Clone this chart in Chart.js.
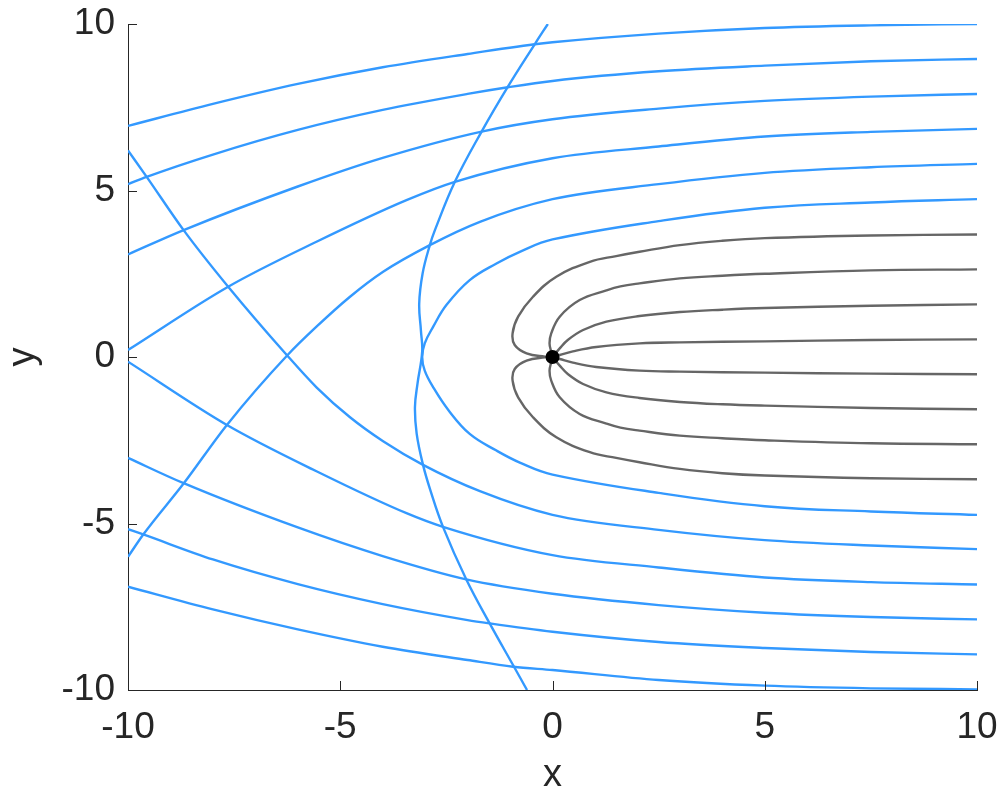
<!DOCTYPE html>
<html>
<head>
<meta charset="utf-8">
<script src="https://cdn.jsdelivr.net/npm/chart.js@4.4.1/dist/chart.umd.min.js"></script>
<style>
  body { margin: 0; background: #fff; }
</style>
</head>
<body>
<canvas id="flowChart" width="1000" height="800"></canvas>
<script>
// axis ticks
const xTicks = [-10, -5, 0, 5, 10];
const yTicks = [-10, -5, 0, 5, 10];

// blue streamlines, upper half ([x, y] pairs)
const blueUp1 = [[-10, 6.94], [-8, 7.6], [-6, 8.2], [-4, 8.7], [-2, 9.1], [-0.42, 9.39], [0, 9.45], [2.5, 9.71], [5, 9.88], [7.5, 9.96], [10, 10]];
const blueUp2 = [[-10, 5.19], [-9.56, 5.41], [-8, 6.08], [-6, 6.82], [-4, 7.42], [-2, 7.9], [-1.05, 8.1], [0, 8.29], [2.5, 8.58], [5, 8.75], [7.5, 8.88], [10, 8.95]];
const blueUp3 = [[-10, 3.08], [-8.69, 3.81], [-6, 5.12], [-4, 5.98], [-1.67, 6.77], [0, 7.14], [2.5, 7.46], [5, 7.69], [7.5, 7.82], [10, 7.9]];
const blueUp4 = [[-10, 0.21], [-7.64, 2.11], [-5.56, 3.46], [-3.44, 4.71], [-2.3, 5.26], [0, 5.97], [2.5, 6.32], [5, 6.62], [7.5, 6.76], [10, 6.85]];
const blueUp5 = [[-10, -6.0], [-9.64, -5.33], [-8.69, -3.8], [-7.67, -2.04], [-6.24, 0.06], [-5.56, 0.91], [-4.77, 1.81], [-3.99, 2.56], [-2.89, 3.36], [-1.71, 4.06], [0, 4.74], [2.5, 5.19], [5, 5.53], [7.5, 5.7], [10, 5.8]];

// blue streamlines, lower half
const blueLow1 = [[-10, -6.9], [-8, -7.58], [-6, -8.18], [-4, -8.7], [-2, -9.1], [-0.93, -9.3], [0, -9.4], [2.5, -9.7], [5, -9.87], [7.5, -9.95], [10, -9.98]];
const blueLow2 = [[-10, -5.17], [-9.64, -5.33], [-8, -6.08], [-6, -6.82], [-4, -7.42], [-2, -7.9], [-1.48, -8.0], [0, -8.25], [2.5, -8.56], [5, -8.74], [7.5, -8.86], [10, -8.93]];
const blueLow3 = [[-10, -3.03], [-8.69, -3.79], [-6, -5.12], [-4, -5.98], [-2.03, -6.68], [0, -7.11], [2.5, -7.45], [5, -7.68], [7.5, -7.81], [10, -7.88]];
const blueLow4 = [[-10, -0.14], [-7.67, -2.04], [-5.56, -3.43], [-3.44, -4.69], [-2.58, -5.1], [0, -5.95], [2.5, -6.32], [5, -6.62], [7.5, -6.76], [10, -6.83]];
const blueLow5 = [[-10, 6.2], [-9.56, 5.41], [-8.69, 3.81], [-7.64, 2.11], [-6.26, 0.06], [-5.56, -0.91], [-4.77, -1.81], [-3.99, -2.53], [-3.05, -3.24], [-1.71, -4.03], [0, -4.74], [2.5, -5.19], [5, -5.5], [7.5, -5.66], [10, -5.77]];

// nose-shaped streamline and the long arc crossing everything
const blueNose = [[10, 4.74], [7.5, 4.64], [5, 4.48], [2.5, 4.08], [0, 3.53], [-0.77, 3.16], [-1.32, 2.81], [-1.95, 2.31], [-2.5, 1.56], [-2.81, 0.91], [-3.01, 0.41], [-3.07, 0], [-3.01, -0.41], [-2.81, -0.91], [-2.45, -1.6], [-1.95, -2.31], [-1.32, -2.81], [-0.77, -3.17], [0, -3.53], [2.5, -4.08], [5, -4.48], [7.5, -4.64], [10, -4.74]];
const blueArc = [[-0.11, 10], [-0.42, 9.39], [-1.05, 8.12], [-1.67, 6.77], [-2.3, 5.26], [-2.77, 3.81], [-2.89, 3.36], [-3.06, 2.51], [-3.14, 1.6], [-3.1, 0.8], [-3.07, 0.16], [-3.18, -0.8], [-3.24, -1.5], [-3.2, -2.3], [-3.05, -3.24], [-2.88, -3.99], [-2.58, -5.1], [-2.03, -6.68], [-1.48, -8.0], [-0.93, -9.25], [-0.6, -10]];

// grey streamlines ending at the source
const greyUp1 = [[10, 3.68], [7.5, 3.65], [5, 3.57], [4, 3.49], [3, 3.36], [2.05, 3.16], [1.5, 3.03], [0.88, 2.86], [0.09, 2.41], [-0.46, 1.81], [-0.81, 1.21], [-0.94, 0.71], [-0.89, 0.36], [-0.61, 0.11], [-0.18, 0.01], [0, 0]];
const greyUp2 = [[10, 2.63], [7.5, 2.6], [5, 2.5], [4, 2.44], [3, 2.36], [2.05, 2.21], [1.6, 2.12], [1.27, 2.0], [0.64, 1.71], [0.17, 1.21], [-0.03, 0.71], [-0.07, 0.41], [-0.03, 0.16], [0, 0]];
const greyUp3 = [[10, 1.58], [7.5, 1.54], [5, 1.47], [4, 1.42], [3, 1.35], [2.05, 1.23], [1.27, 1.06], [0.72, 0.81], [0.36, 0.51], [0.17, 0.26], [0, 0]];
const greyUp4 = [[10, 0.53], [7.5, 0.51], [5, 0.47], [3, 0.44], [2.05, 0.41], [1.03, 0.3], [0.48, 0.17], [0.17, 0.06], [0, 0]];
const greyLow1 = [[10, -3.67], [7.5, -3.64], [5, -3.56], [4, -3.49], [3, -3.36], [2.05, -3.16], [1.5, -3.03], [0.88, -2.86], [0.09, -2.41], [-0.46, -1.81], [-0.81, -1.21], [-0.94, -0.71], [-0.89, -0.36], [-0.61, -0.11], [-0.18, -0.01], [0, 0]];
const greyLow2 = [[10, -2.62], [7.5, -2.59], [5, -2.5], [4, -2.44], [3, -2.36], [2.05, -2.21], [1.6, -2.12], [1.27, -2.0], [0.64, -1.71], [0.17, -1.21], [-0.03, -0.71], [-0.07, -0.41], [-0.03, -0.16], [0, 0]];
const greyLow3 = [[10, -1.57], [7.5, -1.53], [5, -1.46], [4, -1.42], [3, -1.35], [2.05, -1.23], [1.27, -1.06], [0.72, -0.81], [0.36, -0.51], [0.17, -0.26], [0, 0]];
const greyLow4 = [[10, -0.52], [7.5, -0.5], [5, -0.47], [3, -0.44], [2.05, -0.41], [1.03, -0.3], [0.48, -0.17], [0.17, -0.06], [0, 0]];

// source point
const sourcePoint = [[0, 0]];

// curves that are single-valued in x get monotone interpolation
const blueStreams = [blueUp1, blueUp2, blueUp3, blueUp4, blueUp5, blueLow1, blueLow2, blueLow3, blueLow4, blueLow5];
const blueLoops = [blueNose, blueArc];
const greyLines = [greyUp1, greyUp2, greyUp3, greyUp4, greyLow1, greyLow2, greyLow3, greyLow4];

const toPoints = (pairs) => pairs.map(([x, y]) => ({ x, y }));

const lineSet = (pairs, color, monotone) => ({
  data: toPoints(pairs),
  showLine: true,
  borderColor: color,
  borderWidth: 2.4,
  pointRadius: 0,
  tension: 0.4,
  cubicInterpolationMode: monotone ? "monotone" : "default",
  fill: false,
});

const datasets = [
  {
    data: toPoints(sourcePoint),
    pointRadius: 7,
    pointBackgroundColor: "#000000",
    pointBorderWidth: 0,
    showLine: false,
  },
  ...greyLines.map((l) => lineSet(l, "#666666", false)),
  ...blueLoops.map((l) => lineSet(l, "#3399ff", false)),
  ...blueStreams.map((l) => lineSet(l, "#3399ff", true)),
];

// MATLAB-style ticks pointing into the plot area
const inwardTicks = {
  id: "inwardTicks",
  afterDraw(chart) {
    const { ctx, chartArea, scales } = chart;
    ctx.save();
    ctx.strokeStyle = "#262626";
    ctx.lineWidth = 1;
    ctx.beginPath();
    xTicks.forEach((v) => {
      const px = Math.round(scales.x.getPixelForValue(v)) + 0.5;
      ctx.moveTo(px, chartArea.bottom);
      ctx.lineTo(px, chartArea.bottom - 9);
    });
    yTicks.forEach((v) => {
      const py = Math.round(scales.y.getPixelForValue(v)) + 0.5;
      ctx.moveTo(chartArea.left, py);
      ctx.lineTo(chartArea.left + 9, py);
    });
    ctx.stroke();
    ctx.restore();
  },
};

const fontFamily = "'Liberation Sans', Helvetica, Arial, sans-serif";

const ctx = document.getElementById("flowChart").getContext("2d");
new Chart(ctx, {
  type: "scatter",
  data: { datasets },
  plugins: [inwardTicks],
  options: {
    responsive: false,
    animation: false,
    layout: { padding: { top: 24, right: 23, left: 0, bottom: 0 } },
    plugins: {
      legend: { display: false },
      tooltip: { enabled: false },
    },
    scales: {
      x: {
        type: "linear",
        min: -10,
        max: 10,
        afterFit: (scale) => {
          scale.height = 110;
          scale.paddingLeft = 0;
          scale.paddingRight = 0;
        },
        afterBuildTicks: (scale) => { scale.ticks = xTicks.map((v) => ({ value: v })); },
        grid: { display: false, drawTicks: false },
        border: { display: true, color: "#262626", width: 1 },
        ticks: {
          padding: 19,
          color: "#262626",
          maxRotation: 0,
          font: { family: fontFamily, size: 37, lineHeight: 1 },
        },
        title: {
          display: true,
          text: "x",
          color: "#262626",
          padding: { top: 0, bottom: 5 },
          font: { family: fontFamily, size: 38, lineHeight: 1 },
        },
      },
      y: {
        type: "linear",
        min: -10,
        max: 10,
        afterFit: (scale) => {
          scale.width = 128;
          scale.paddingTop = 0;
          scale.paddingBottom = 0;
        },
        afterBuildTicks: (scale) => { scale.ticks = yTicks.map((v) => ({ value: v })); },
        grid: { display: false, drawTicks: false },
        border: { display: true, color: "#262626", width: 1 },
        ticks: {
          padding: 13,
          color: "#262626",
          font: { family: fontFamily, size: 37, lineHeight: 1 },
        },
        title: {
          display: true,
          text: "y",
          color: "#262626",
          padding: { top: 5, bottom: 0 },
          font: { family: fontFamily, size: 38, lineHeight: 1 },
        },
      },
    },
  },
});
</script>
</body>
</html>
